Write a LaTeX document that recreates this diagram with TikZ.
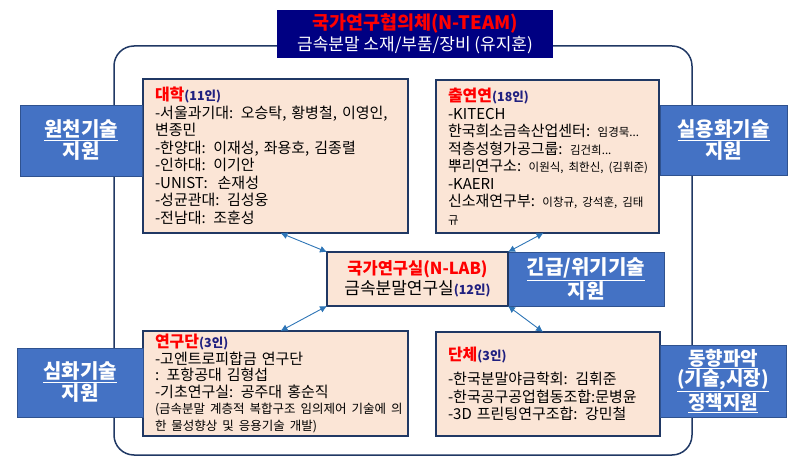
\documentclass[tikz,border=0pt]{standalone}
\usepackage{fontspec}
\setmainfont{Noto Sans CJK KR}
\usepackage{xcolor}
\usetikzlibrary{arrows.meta}

\definecolor{peach}{RGB}{251,229,214}
\definecolor{navyline}{RGB}{32,56,100}
\definecolor{titleblue}{RGB}{0,0,130}
\definecolor{sideblue}{RGB}{68,114,196}
\definecolor{sideline}{RGB}{47,82,143}
\definecolor{arrblue}{RGB}{46,117,182}
\definecolor{cntblue}{RGB}{32,32,128}
\newcommand{\hd}[2]{{\fontsize{16}{17}\selectfont\bfseries\color{red}#1}{\fontsize{12.5}{17}\selectfont\bfseries\color{cntblue}(#2인)}}
\newcommand{\smtxt}[1]{{\fontsize{11.5}{17}\selectfont #1}}

\begin{document}
\begin{tikzpicture}[x=1pt, y=-1pt,
  box/.style={draw=navyline, line width=1.5pt, fill=peach, align=left, inner xsep=12pt, inner ysep=0pt, outer sep=0pt, font=\fontsize{15}{17.5}\selectfont},
  side/.style={draw=sideline, line width=0.8pt, fill=sideblue, text=white, align=center, inner sep=0pt, outer sep=0pt, font=\fontsize{20}{22}\selectfont\bfseries},
  arr/.style={{Latex[length=7pt,width=7pt]}-{Latex[length=7pt,width=7pt]}, line width=0.9pt, arrblue}]
\useasboundingbox (0,0) rectangle (800,470);
\node[draw=navyline, line width=1.5pt, rounded corners=20pt, minimum width=578pt, minimum height=409pt] (frame) at (403,250.5) {};
\node[fill=titleblue, minimum width=276pt, minimum height=48pt, align=center, inner sep=0pt, font=\fontsize{17}{21}\selectfont] (team) at (415,34) {\textcolor{red}{\fontsize{18.5}{21}\selectfont\bfseries 국가연구협의체(N-TEAM)}\\ \textcolor{white}{금속분말 소재/부품/장비 (유지훈)}};
% four groups round the lab
\node[box, text width=241pt, minimum height=154pt] (univ) at (275.5,156) {\hd{대학}{11}\\ \mbox{-서울과기대: 오승탁, 황병철, 이영인,}\\ 변종민\\ -한양대: 이재성, 좌용호, 김종렬\\ -인하대: 이기안\\ -UNIST:\ \ 손재성\\ -성균관대: 김성웅\\ -전남대: 조훈성};
\node[box, text width=199pt, minimum height=153pt] (inst) at (547.5,156.5) {\hd{출연연}{18}\\ -KITECH\\ \mbox{한국희소금속산업센터:\smtxt{ 임경묵...}}\\ \mbox{적층성형가공그룹:\smtxt{ 김건희...}}\\ \mbox{뿌리연구소:\smtxt{ 이원식, 최한신, (김휘준)}}\\ -KAERI\\ \mbox{신소재연구부:\smtxt{ 이창규, 강석훈, 김태}}\\ \smtxt{규}};
\node[box, text width=241pt, minimum height=105pt, font=\fontsize{15}{16.5}\selectfont] (group) at (275.5,383.5) {\hd{연구단}{3}\\ -고엔트로피합금 연구단\\ : 포항공대 김형섭\\ -기초연구실: 공주대 홍순직\\ \mbox{\fontsize{12.5}{16}\selectfont(금속분말 계층적 복합구조 임의제어 기술에 의}\\ \mbox{\fontsize{12.5}{16}\selectfont 한 물성향상 및 응용기술 개발)}};
\node[box, text width=200pt, minimum height=104pt] (assoc) at (548,384) {\hd{단체}{3}\\[7pt] -한국분말야금학회: 김휘준\\ \mbox{-한국공구공업협동조합:문병윤}\\ -3D 프린팅연구조합: 강민철};
% support boxes
\node[side, minimum width=122pt, minimum height=71pt] (basic) at (81,140.5) {\underline{원천기술}\\ 지원};
\node[side, minimum width=127pt, minimum height=70pt] (applied) at (723.5,140) {\underline{실용화기술}\\ 지원};
\node[side, minimum width=126pt, minimum height=69pt] (deep) at (80,382.5) {\underline{심화기술}\\ 지원};
\node[side, minimum width=126pt, minimum height=72pt, font=\fontsize{19}{20.5}\selectfont\bfseries] (trend) at (723,381) {\underline{동향파악}\\ \underline{(기술,시장)}\\ \underline{정책지원}};
\node[side, minimum width=156pt, minimum height=54pt] (urgent) at (586,279) {\underline{긴급/위기기술}\\ 지원};
\node[box, align=center, inner xsep=0pt, minimum width=181pt, minimum height=54pt, font=\fontsize{17}{20}\selectfont] (nlab) at (417.5,279) {{\fontsize{16.5}{20}\selectfont\bfseries\color{red}국가연구실(N-LAB)}\\ 금속분말연구실{\fontsize{12.5}{20}\selectfont\bfseries\color{cntblue}(12인)}};
\draw[arr] ([xshift=5pt]univ.south) -- (nlab.north west);
\draw[arr] ([xshift=-4pt]inst.south) -- (nlab.north east);
\draw[arr] (nlab.south west) -- ([xshift=5pt]group.north);
\draw[arr] (nlab.south east) -- ([xshift=-5pt]assoc.north);
\end{tikzpicture}
\end{document}
